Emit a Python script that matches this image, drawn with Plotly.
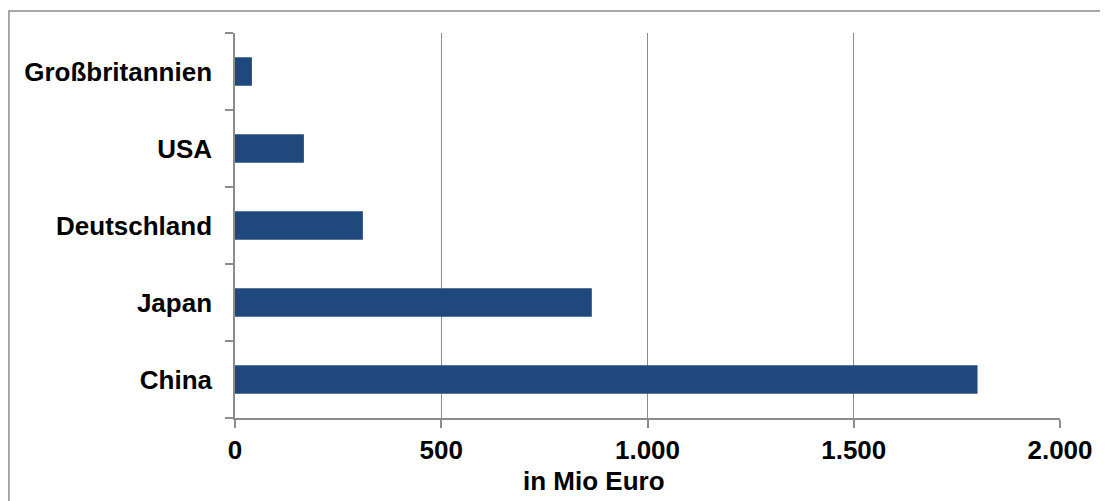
import plotly.graph_objects as go

countries = ["China", "Japan", "Deutschland", "USA", "Großbritannien"]
values = [1800, 865, 310, 167, 41]
x_ticks = [0, 500, 1000, 1500, 2000]
x_tick_labels = ["0", "500", "1.000", "1.500", "2.000"]
x_title = "in Mio Euro"

FONT = "Liberation Sans, Arial, sans-serif"
GRID = "#8c8c8c"

fig = go.Figure()
fig.add_trace(go.Bar(
    y=countries, x=values, orientation="h",
    marker=dict(color="#1f497d", line=dict(width=0)),
    width=0.37,
))

fig.update_layout(
    width=1108, height=501,
    margin=dict(l=227, r=56, t=25, b=91, autoexpand=False),
    paper_bgcolor="white", plot_bgcolor="white",
    showlegend=False,
    font=dict(family=FONT, color="black"),
    xaxis=dict(
        range=[0, 2000], tickvals=x_ticks,
        ticktext=[f"<b>{t}</b>" for t in x_tick_labels],
        tickfont=dict(size=26, family=FONT, color="black"),
        showgrid=True, gridcolor=GRID, gridwidth=1,
        showline=True, linecolor=GRID, linewidth=1.5,
        ticks="outside", ticklen=8, tickcolor=GRID, tickwidth=1.5,
        zeroline=False,
    ),
    yaxis=dict(
        tickfont=dict(size=26, family=FONT, color="black"),
        showline=True, linecolor=GRID, linewidth=1.5,
        ticks="outside", ticklen=8, tickcolor=GRID, tickwidth=1.5,
        tickson="boundaries", showgrid=False,
        ticklabelstandoff=16,
    ),
)
fig.update_yaxes(tickprefix="<b>", ticksuffix="</b>")

fig.add_annotation(text=f"<b>{x_title}</b>", xref="paper", yref="paper",
                   x=0.435, y=-0.163, xanchor="center", yanchor="middle",
                   showarrow=False, font=dict(size=26, family=FONT, color="black"))

fig.add_shape(type="rect", xref="paper", yref="paper",
              x0=-0.274, x1=1.08, y0=-0.3, y1=1.057,
              line=dict(color="#8c8c8c", width=1.5), fillcolor="rgba(0,0,0,0)", layer="below")

fig.write_html("out.html")
